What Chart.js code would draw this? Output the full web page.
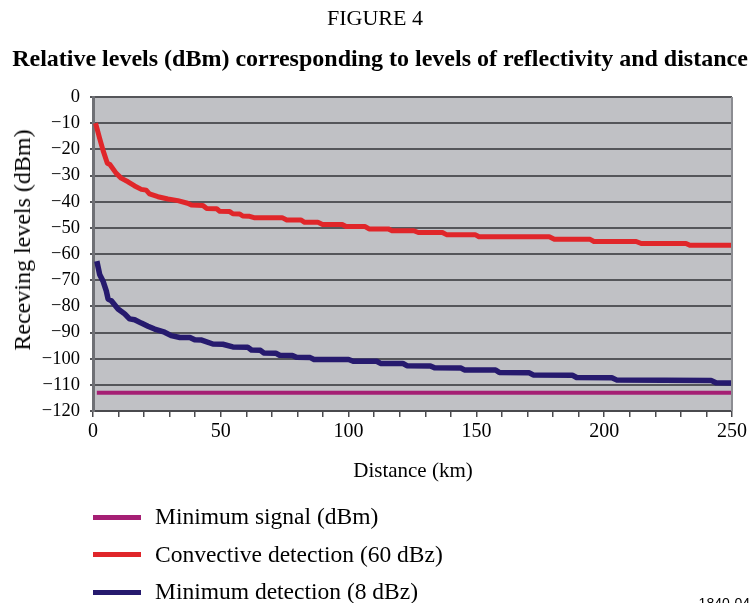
<!DOCTYPE html>
<html>
<head>
<meta charset="utf-8">
<script src="https://cdn.jsdelivr.net/npm/chart.js@4.4.1/dist/chart.umd.min.js"></script>
<style>
  html, body { margin: 0; padding: 0; background: #ffffff; }
  body { width: 750px; height: 603px; position: relative; overflow: hidden; font-family: "Liberation Serif", "DejaVu Serif", serif; color: #000; }
  #wrap { position: absolute; left: 0; top: 0; width: 750px; height: 603px; }
  .txt { position: absolute; white-space: nowrap; line-height: 1; }
  #figno { left: 0; width: 750px; text-align: center; top: 7px; font-size: 22px; }
  #title { left: 0; width: 760px; text-align: center; top: 46px; font-size: 24px; font-weight: bold; }
  #xtitle { left: 93px; width: 640px; text-align: center; top: 460px; font-size: 21px; }
  #ytitle { left: 22px; top: 240px; font-size: 24px; transform: translate(-50%, -50%) rotate(-90deg); }
  #legend { position: absolute; left: 93px; top: 502px; }
  .row { position: absolute; left: 0; height: 30px; width: 500px; }
  .row .sw { position: absolute; left: 0; top: 15px; width: 48px; height: 5px; margin-top: -2.5px; }
  .row .lb { position: absolute; left: 62px; top: 3px; font-size: 23.5px; line-height: 1; white-space: nowrap; }
  #code { right: 0; top: 596px; font-family: "Liberation Sans", Arial, sans-serif; font-size: 14px; }
</style>
</head>
<body>
<div id="wrap"><canvas id="chart" width="750" height="603"></canvas></div>
<div class="txt" id="figno">FIGURE 4</div>
<div class="txt" id="title">Relative levels (dBm) corresponding to levels of reflectivity and distance</div>
<div class="txt" id="xtitle">Distance (km)</div>
<div class="txt" id="ytitle">Receving levels (dBm)</div>
<div id="legend"></div>
<div class="txt" id="code">1840-04</div>
<script>
// Distance axis (km) and level axis (dBm) tick settings
const xTickStep = 10;
const xLabelStep = 50;
const yTicks = [0, -10, -20, -30, -40, -50, -60, -70, -80, -90, -100, -110, -120];

// Minimum signal (dBm): flat threshold
const minSignalKm  = [1.5, 250];
const minSignalDbm = [-113, -113];

// Convective detection (60 dBz)
const convectiveKm = [1, 2.6, 3.9, 5.6, 6.6, 9.1, 11, 13.7, 16.3, 18.9, 20.8, 22.1, 25.4, 29.3, 33.2, 37, 38.5, 43,
  44.5, 48.4, 49.6, 53.5, 54.7, 57.4, 58.6, 61.3, 63, 74, 75.8, 81.3, 82.8, 88, 89.8, 97.5, 99, 106.5,
  108, 115.5, 117, 125.5, 127.3, 136.7, 138.3, 149.5, 151, 178.5, 180.5, 194.5, 196, 212.5, 214.5, 232, 233.5, 250];
const convectiveDbm = [-10, -15.8, -20.3, -25.3, -25.8, -29.2, -31, -32.4, -34, -35.3, -35.6, -37, -38.1, -39, -39.6, -40.6, -41.3, -41.5,
  -42.6, -42.7, -43.7, -43.8, -44.6, -44.7, -45.5, -45.6, -46.1, -46.1, -47, -47, -47.9, -47.9, -48.7, -48.7, -49.5, -49.5,
  -50.4, -50.4, -51.1, -51.1, -51.8, -51.8, -52.6, -52.6, -53.4, -53.4, -54.4, -54.4, -55.2, -55.2, -56, -56, -56.7, -56.7];

// Minimum detection (8 dBz)
const minDetectKm = [1.5, 2.6, 3.9, 5.2, 5.9, 7.1, 9.8, 12.4, 14.3, 16.3, 18.9, 21.5, 24.1, 28, 30.6, 34, 37.9, 39.8, 42.5,
  46.9, 50.8, 54.7, 60.5, 62, 65.5, 66.8, 71.5, 73, 78, 79.6, 85, 86.5, 100, 101.8, 111, 112.5, 121.2, 122.8, 132,
  133.6, 144, 145.3, 157.5, 159, 170.7, 172.2, 187.5, 189.2, 203, 205, 241.8, 243.7, 250];
const minDetectDbm = [-62.7, -67.8, -70.3, -74.1, -77.2, -77.8, -81, -82.9, -84.8, -85.1, -86.4, -87.6, -88.7, -89.9, -91.2, -91.9, -91.9, -92.8, -92.9,
  -94.4, -94.5, -95.5, -95.6, -96.7, -96.8, -97.8, -97.9, -98.7, -98.8, -99.5, -99.6, -100.3, -100.3, -101, -101, -101.8, -101.8, -102.7, -102.8,
  -103.5, -103.6, -104.3, -104.3, -105.3, -105.4, -106.2, -106.3, -107.2, -107.3, -108.2, -108.3, -109.2, -109.3];

const seriesNames  = ["Minimum signal (dBm)", "Convective detection (60 dBz)", "Minimum detection (8 dBz)"];
const seriesColors = ["#a51f74", "#e0262a", "#261a6e"];

const toPoints = (xs, ys) => xs.map((x, i) => ({ x: x, y: ys[i] }));

// grey plot panel plus a thin frame on its right side
const plotPanel = {
  id: 'plotPanel',
  beforeDraw(chart) {
    const { ctx, chartArea: a } = chart;
    ctx.save();
    ctx.fillStyle = '#c0c1c5';
    ctx.fillRect(a.left, a.top, a.right - a.left, a.bottom - a.top);
    ctx.restore();
  },
  afterDraw(chart) {
    const { ctx, chartArea: a } = chart;
    ctx.save();
    ctx.strokeStyle = '#8c8d92';
    ctx.lineWidth = 2;
    ctx.beginPath();
    ctx.moveTo(a.right, a.top);
    ctx.lineTo(a.right, a.bottom);
    ctx.stroke();
    ctx.restore();
  }
};

const datasets = [
  { label: seriesNames[0], data: toPoints(minSignalKm, minSignalDbm), borderColor: seriesColors[0], borderWidth: 4 },
  { label: seriesNames[1], data: toPoints(convectiveKm, convectiveDbm), borderColor: seriesColors[1], borderWidth: 5 },
  { label: seriesNames[2], data: toPoints(minDetectKm, minDetectDbm), borderColor: seriesColors[2], borderWidth: 5.5 }
].map(d => Object.assign(d, { pointRadius: 0, tension: 0, fill: false, borderJoinStyle: 'round', borderCapStyle: 'butt' }));

new Chart(document.getElementById('chart'), {
  type: 'line',
  data: { datasets },
  options: {
    responsive: false,
    animation: false,
    events: [],
    layout: { padding: { left: 0, top: 97, right: 17, bottom: 160 } },
    plugins: { legend: { display: false }, title: { display: false }, tooltip: { enabled: false } },
    scales: {
      x: {
        type: 'linear',
        min: 0, max: 250,
        afterFit: s => { s.height = 32; },
        ticks: {
          stepSize: xTickStep, autoSkip: false, maxRotation: 0, padding: 3,
          color: '#000',
          font: { family: 'Liberation Serif', size: 20 },
          callback: v => (v % xLabelStep === 0 ? String(v) : '')
        },
        grid: { drawOnChartArea: false, drawTicks: true, tickLength: 6, color: '#4a4a4e', lineWidth: 1.5 },
        border: { display: true, color: '#4a4a4e', width: 2 }
      },
      y: {
        type: 'linear',
        min: -120, max: 0,
        afterFit: s => { s.width = 93; },
        afterBuildTicks: s => { s.ticks = yTicks.map(v => ({ value: v })); },
        ticks: {
          padding: 10, color: '#000',
          font: { family: 'Liberation Serif', size: 18.5 },
          callback: v => (v < 0 ? '\u2212' + Math.abs(v) : String(v))
        },
        grid: { color: '#55565a', lineWidth: 2, drawTicks: true, tickLength: 3 },
        border: { display: true, color: '#6f7075', width: 3 }
      }
    }
  },
  plugins: [plotPanel]
});

// legend rows drawn from the series names and colours
const legend = document.getElementById('legend');
const rowTops = [0, 37.5, 75];
[0, 1, 2].forEach(i => {
  const row = document.createElement('div');
  row.className = 'row';
  row.style.top = rowTops[i] + 'px';
  const sw = document.createElement('div');
  sw.className = 'sw';
  sw.style.background = seriesColors[i];
  const lb = document.createElement('div');
  lb.className = 'lb';
  lb.textContent = seriesNames[i];
  row.appendChild(sw);
  row.appendChild(lb);
  legend.appendChild(row);
});
</script>
</body>
</html>
